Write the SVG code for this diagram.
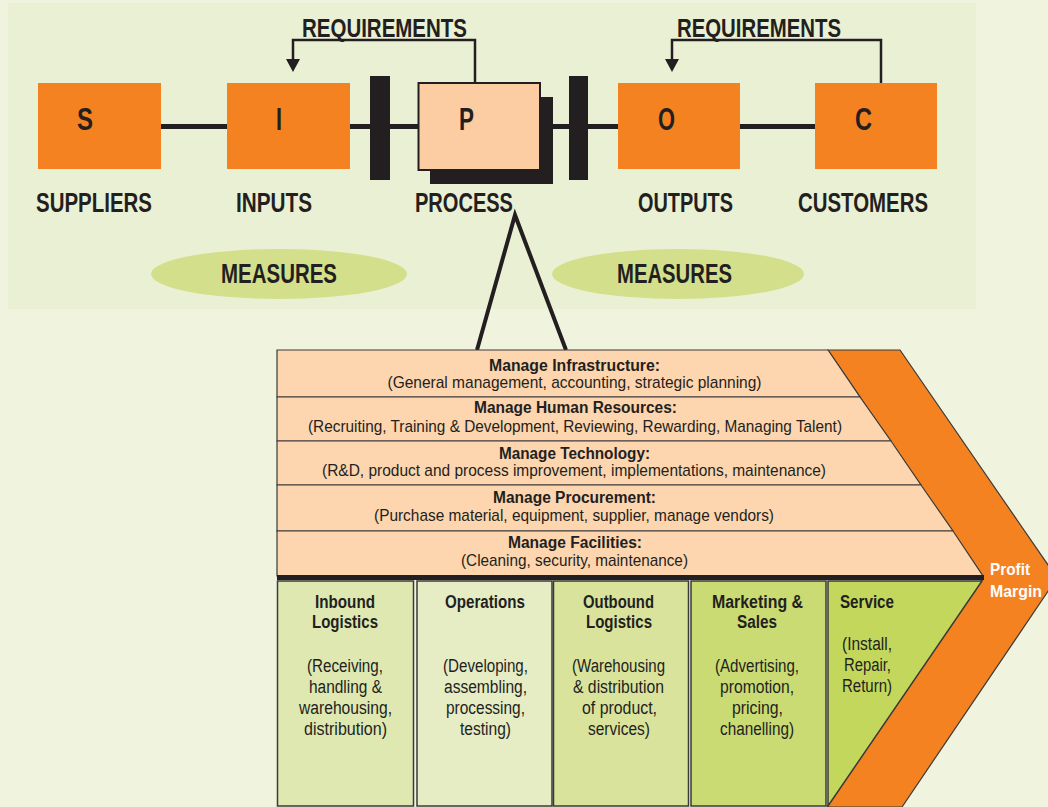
<svg xmlns="http://www.w3.org/2000/svg" width="1048" height="807" viewBox="0 0 1048 807">
  <defs>
    <style>
      text { font-family: "Liberation Sans Narrow", "Liberation Sans", Arial, sans-serif; fill: #231f20; }
      .big { font-size: 32px; font-weight: bold; text-anchor: middle; }
      .lbl { font-size: 27px; font-weight: bold; text-anchor: middle; }
      .req { font-size: 26px; font-weight: bold; text-anchor: middle; }
      .meas { font-size: 28px; font-weight: bold; text-anchor: middle; }
      .st { font-size: 16px; font-weight: bold; text-anchor: middle; }
      .ss { font-size: 17px; text-anchor: middle; }
      .ct { font-size: 17.5px; font-weight: bold; text-anchor: middle; }
      .cs { font-size: 18px; text-anchor: middle; }
      .pm { font-size: 17px; font-weight: bold; fill: #ffffff; }
      .orange { fill: #f58220; }
      .row { fill: #fdd5ae; stroke: #3a3a3a; stroke-width: 1.2; }
      .col { stroke: #3a3a3a; stroke-width: 1.5; }
      .wire { fill: none; stroke: #231f20; }
    </style>
  </defs>

  <!-- page and top panel -->
  <rect x="0" y="0" width="1048" height="807" fill="#f0f4df"/>
  <rect x="8" y="3" width="968" height="306" fill="#eaf0d4"/>

  <!-- connectors -->
  <g id="connectors">
    <line class="wire" x1="161" y1="126.5" x2="815" y2="126.5" stroke-width="5"/>
    <rect x="370" y="76" width="20" height="104" fill="#231f20"/>
    <rect x="569" y="76" width="19" height="104" fill="#231f20"/>
    <polyline class="wire" stroke-width="2.5" points="475,84 475,40 293,40 293,60"/>
    <path d="M286,59 L300,59 L293,72 Z" fill="#231f20"/>
    <polyline class="wire" stroke-width="2.5" points="881,84 881,40 672,40 672,60"/>
    <path d="M665,59 L679,59 L672,72 Z" fill="#231f20"/>
    <polyline class="wire" stroke-width="4" stroke-linejoin="miter" points="477,350 515,215 566,350"/>
  </g>

  <!-- SIPOC nodes -->
  <g id="node-s">
    <rect class="orange" x="38" y="83" width="123" height="86"/>
    <text class="big" x="85" y="130" textLength="16" lengthAdjust="spacingAndGlyphs">S</text>
    <text class="lbl" x="94" y="212" textLength="116" lengthAdjust="spacingAndGlyphs">SUPPLIERS</text>
  </g>
  <g id="node-i">
    <rect class="orange" x="227" y="83" width="123" height="86"/>
    <text class="big" x="279" y="130" textLength="6" lengthAdjust="spacingAndGlyphs">I</text>
    <text class="lbl" x="274" y="212" textLength="76" lengthAdjust="spacingAndGlyphs">INPUTS</text>
  </g>
  <g id="node-p">
    <rect x="430" y="97" width="123" height="87" fill="#231f20"/>
    <rect x="418.5" y="83" width="121.5" height="87" fill="#fccda3" stroke="#231f20" stroke-width="2"/>
    <text class="big" x="466.5" y="130" textLength="15" lengthAdjust="spacingAndGlyphs">P</text>
    <text class="lbl" x="464" y="212" textLength="98" lengthAdjust="spacingAndGlyphs">PROCESS</text>
  </g>
  <g id="node-o">
    <rect class="orange" x="618" y="83" width="122" height="86"/>
    <text class="big" x="666.5" y="130" textLength="17" lengthAdjust="spacingAndGlyphs">O</text>
    <text class="lbl" x="685.5" y="212" textLength="95" lengthAdjust="spacingAndGlyphs">OUTPUTS</text>
  </g>
  <g id="node-c">
    <rect class="orange" x="815" y="83" width="122" height="86"/>
    <text class="big" x="863.5" y="130" textLength="17" lengthAdjust="spacingAndGlyphs">C</text>
    <text class="lbl" x="863" y="212" textLength="130" lengthAdjust="spacingAndGlyphs">CUSTOMERS</text>
  </g>
  <g id="label-req-left">
    <text class="req" x="384.5" y="37" textLength="165" lengthAdjust="spacingAndGlyphs">REQUIREMENTS</text>
  </g>
  <g id="label-req-right">
    <text class="req" x="759" y="37" textLength="164" lengthAdjust="spacingAndGlyphs">REQUIREMENTS</text>
  </g>
  <g id="measures-left">
    <ellipse cx="279" cy="274" rx="128" ry="25" fill="#d3df8b"/>
    <text class="meas" x="279" y="283" textLength="116" lengthAdjust="spacingAndGlyphs">MEASURES</text>
  </g>
  <g id="measures-right">
    <ellipse cx="678" cy="274" rx="126" ry="25" fill="#d3df8b"/>
    <text class="meas" x="674.5" y="283" textLength="115" lengthAdjust="spacingAndGlyphs">MEASURES</text>
  </g>

  <!-- profit margin chevron -->
  <g id="margin">
    <polygon class="orange" stroke="#3a3a3a" stroke-width="1.2" points="828,350 900,350 1057,578 902,807 827,807 983,578"/>
    <text class="pm" x="990" y="575" textLength="40" lengthAdjust="spacingAndGlyphs">Profit</text>
    <text class="pm" x="990" y="597" textLength="52" lengthAdjust="spacingAndGlyphs">Margin</text>
  </g>

  <!-- support activities -->
  <g id="support-infrastructure">
    <polygon class="row" points="277,350 828,350 860,397 277,397"/>
    <text class="st" x="574.5" y="371" textLength="171" lengthAdjust="spacingAndGlyphs">Manage Infrastructure:</text>
    <text class="ss" x="574.5" y="388" textLength="374" lengthAdjust="spacingAndGlyphs">(General management, accounting, strategic planning)</text>
  </g>
  <g id="support-hr">
    <polygon class="row" points="277,397 860,397 891,441 277,441"/>
    <text class="st" x="575.5" y="413" textLength="203" lengthAdjust="spacingAndGlyphs">Manage Human Resources:</text>
    <text class="ss" x="575" y="432" textLength="534" lengthAdjust="spacingAndGlyphs">(Recruiting, Training &amp; Development, Reviewing, Rewarding, Managing Talent)</text>
  </g>
  <g id="support-technology">
    <polygon class="row" points="277,441 891,441 921,485 277,485"/>
    <text class="st" x="574.5" y="459" textLength="151" lengthAdjust="spacingAndGlyphs">Manage Technology:</text>
    <text class="ss" x="574" y="476" textLength="504" lengthAdjust="spacingAndGlyphs">(R&amp;D, product and process improvement, implementations, maintenance)</text>
  </g>
  <g id="support-procurement">
    <polygon class="row" points="277,485 921,485 953,531 277,531"/>
    <text class="st" x="574.5" y="503" textLength="163" lengthAdjust="spacingAndGlyphs">Manage Procurement:</text>
    <text class="ss" x="574" y="521" textLength="400" lengthAdjust="spacingAndGlyphs">(Purchase material, equipment, supplier, manage vendors)</text>
  </g>
  <g id="support-facilities">
    <polygon class="row" points="277,531 953,531 983,576 277,576"/>
    <text class="st" x="575" y="548" textLength="134" lengthAdjust="spacingAndGlyphs">Manage Facilities:</text>
    <text class="ss" x="574.5" y="566" textLength="227" lengthAdjust="spacingAndGlyphs">(Cleaning, security, maintenance)</text>
  </g>
  <rect x="277" y="575" width="707" height="5" fill="#231f20"/>

  <!-- primary activities -->
  <g id="primary-inbound">
    <rect class="col" x="277.5" y="581" width="136" height="225" fill="#dee8b0"/>
    <text class="ct" x="345" y="608" textLength="60" lengthAdjust="spacingAndGlyphs">Inbound</text>
    <text class="ct" x="345" y="628" textLength="66" lengthAdjust="spacingAndGlyphs">Logistics</text>
    <text class="cs" x="345" y="672" textLength="76" lengthAdjust="spacingAndGlyphs">(Receiving,</text>
    <text class="cs" x="345.5" y="693" textLength="73" lengthAdjust="spacingAndGlyphs">handling &amp;</text>
    <text class="cs" x="345.5" y="714" textLength="93" lengthAdjust="spacingAndGlyphs">warehousing,</text>
    <text class="cs" x="345.5" y="735" textLength="83" lengthAdjust="spacingAndGlyphs">distribution)</text>
  </g>
  <g id="primary-operations">
    <rect class="col" x="417" y="581" width="135" height="225" fill="#e6ecc4"/>
    <text class="ct" x="485" y="608" textLength="80" lengthAdjust="spacingAndGlyphs">Operations</text>
    <text class="cs" x="485.5" y="672" textLength="85" lengthAdjust="spacingAndGlyphs">(Developing,</text>
    <text class="cs" x="485.5" y="693" textLength="83" lengthAdjust="spacingAndGlyphs">assembling,</text>
    <text class="cs" x="485.5" y="714" textLength="79" lengthAdjust="spacingAndGlyphs">processing,</text>
    <text class="cs" x="485.5" y="735" textLength="51" lengthAdjust="spacingAndGlyphs">testing)</text>
  </g>
  <g id="primary-outbound">
    <rect class="col" x="553.5" y="581" width="135" height="225" fill="#d9e39b"/>
    <text class="ct" x="618.5" y="608" textLength="71" lengthAdjust="spacingAndGlyphs">Outbound</text>
    <text class="ct" x="619" y="628" textLength="66" lengthAdjust="spacingAndGlyphs">Logistics</text>
    <text class="cs" x="618.5" y="672" textLength="93" lengthAdjust="spacingAndGlyphs">(Warehousing</text>
    <text class="cs" x="618.5" y="693" textLength="91" lengthAdjust="spacingAndGlyphs">&amp; distribution</text>
    <text class="cs" x="619.5" y="714" textLength="75" lengthAdjust="spacingAndGlyphs">of product,</text>
    <text class="cs" x="619" y="735" textLength="62" lengthAdjust="spacingAndGlyphs">services)</text>
  </g>
  <g id="primary-marketing">
    <rect class="col" x="691" y="581" width="135" height="225" fill="#c9db72"/>
    <text class="ct" x="757.5" y="608" textLength="91" lengthAdjust="spacingAndGlyphs">Marketing &amp;</text>
    <text class="ct" x="757" y="628" textLength="40" lengthAdjust="spacingAndGlyphs">Sales</text>
    <text class="cs" x="757" y="672" textLength="84" lengthAdjust="spacingAndGlyphs">(Advertising,</text>
    <text class="cs" x="757" y="693" textLength="74" lengthAdjust="spacingAndGlyphs">promotion,</text>
    <text class="cs" x="757.5" y="714" textLength="51" lengthAdjust="spacingAndGlyphs">pricing,</text>
    <text class="cs" x="757" y="735" textLength="74" lengthAdjust="spacingAndGlyphs">chanelling)</text>
  </g>
  <g id="primary-service">
    <polygon class="col" points="828,581 982,581 828,806" fill="#c2d75b"/>
    <text class="ct" x="867" y="608" textLength="54" lengthAdjust="spacingAndGlyphs">Service</text>
    <text class="cs" x="867" y="650" textLength="50" lengthAdjust="spacingAndGlyphs">(Install,</text>
    <text class="cs" x="867.5" y="671" textLength="47" lengthAdjust="spacingAndGlyphs">Repair,</text>
    <text class="cs" x="867" y="692" textLength="50" lengthAdjust="spacingAndGlyphs">Return)</text>
  </g>
</svg>
